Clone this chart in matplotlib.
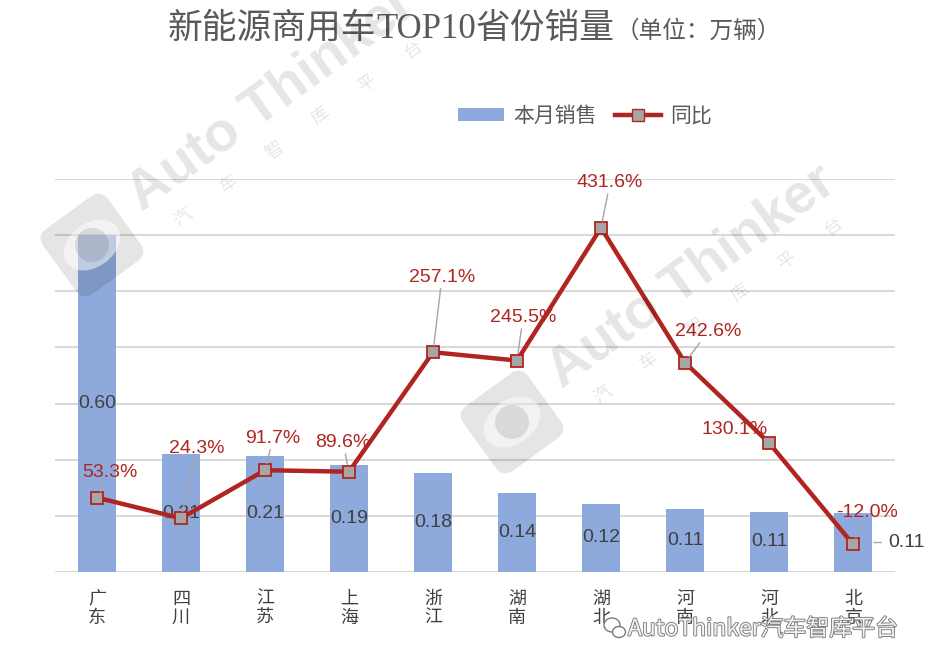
import math
import matplotlib
matplotlib.use('Agg')
import matplotlib.pyplot as plt
import matplotlib.transforms as mtransforms
import matplotlib.patheffects as pe
from matplotlib.patches import FancyBboxPatch, Ellipse, Circle
from matplotlib.lines import Line2D
from matplotlib.patches import Patch

plt.rcParams['font.family'] = ['Noto Sans CJK SC', 'DejaVu Sans']

# data
provinces = ['广东', '四川', '江苏', '上海', '浙江', '湖南', '湖北', '河南', '河北', '北京']
sales = [0.60, 0.21, 0.207, 0.19, 0.177, 0.14, 0.122, 0.112, 0.107, 0.1051]
yoy = [53.3, 24.3, 91.7, 89.6, 257.1, 245.5, 431.6, 242.6, 130.1, -12.0]
# label offsets (pixels) of the yoy labels from their points
yoy_dx = [13, 16, 8, -6, 9, 6, 9, 23, -34, 14]
yoy_dy = [25, 70, 32, 29, 75, 43, 45, 31, 13, 32]

BAR_COLOR = '#8EA9DB'
LINE_COLOR = '#B0251F'
GRID_COLOR = '#D9D9D9'
TEXT_GRAY = '#595959'
W, H = 931, 669

fig = plt.figure(figsize=(W / 100, H / 100), dpi=100)
ax = fig.add_axes([55 / W, 1 - 572 / H, 840 / W, 393 / H])
ax2 = ax.twinx()

x = list(range(len(provinces)))
bars = ax.bar(x, sales, width=0.46, color=BAR_COLOR, zorder=2)
ax.set_xlim(-0.5, len(provinces) - 0.5)
ax.set_ylim(0, 0.7)
ax.set_yticks([i / 10 for i in range(8)])
ax.yaxis.grid(True, color=GRID_COLOR, linewidth=1.5, zorder=0)
ax.set_axisbelow(True)
ax.tick_params(axis='y', left=False, labelleft=False)
ax.set_xticks(x)
ax.set_xticklabels(['\n'.join(p) for p in provinces], fontsize=13, color='#404040', linespacing=1.05)
ax.tick_params(axis='x', length=0, pad=13)
for s in ax.spines.values():
    s.set_visible(False)

# bar value labels
for i, v in enumerate(sales):
    if i < len(sales) - 1:
        ax.text(i, v / 2, f'{v:.2f}', ha='center', va='center', fontsize=14,
                color='#404040', family='Liberation Sans', zorder=4)
    else:
        ax.annotate(f'{v:.2f}', xy=(i + 0.23, v / 2), xytext=(16, 0), textcoords='offset pixels',
                    ha='left', va='center', fontsize=14, color='#404040', family='Liberation Sans',
                    arrowprops=dict(arrowstyle='-', color='#A6A6A6', lw=1, shrinkA=3, shrinkB=1))

# yoy line
ax2.plot(x, yoy, color=LINE_COLOR, linewidth=3.2, marker='s', markersize=9,
         markerfacecolor='#A6A6A6', markeredgecolor=LINE_COLOR, markeredgewidth=1.3, zorder=5)
ax2.set_ylim(-51, 500)
ax2.set_yticks([])
for s in ax2.spines.values():
    s.set_visible(False)

for i, v in enumerate(yoy):
    ax2.annotate(f'{v:.1f}%', xy=(i, v), xytext=(yoy_dx[i], yoy_dy[i]), textcoords='offset pixels',
                 ha='center', va='center', fontsize=14, color=LINE_COLOR, family='Liberation Sans',
                 arrowprops=dict(arrowstyle='-', color='#A6A6A6', lw=1, shrinkA=0, shrinkB=5), zorder=6)

# legend
handles = [Patch(facecolor=BAR_COLOR, edgecolor='none'),
           Line2D([0], [0], color=LINE_COLOR, linewidth=3.2, marker='s', markersize=9,
                  markerfacecolor='#A6A6A6', markeredgecolor=LINE_COLOR)]
leg = fig.legend(handles, ['本月销售', '同比'], loc='center', bbox_to_anchor=(585 / W, 1 - 116 / H),
                 ncol=2, frameon=False, fontsize=15, handlelength=2.2, handleheight=0.55,
                 handletextpad=0.45, columnspacing=0.9)
for t in leg.get_texts():
    t.set_color(TEXT_GRAY)

# title, drawn in pieces so TOP10 gets a serif face
renderer = fig.canvas.get_renderer()
pieces = [('新能源商用车', ['Noto Sans CJK SC'], 25),
          ('TOP10', ['Liberation Serif'], 25),
          ('省份销量', ['Noto Sans CJK SC'], 25),
          ('（单位：万辆）', ['Noto Sans CJK SC'], 17)]
xpos = 168
for txt, fam, size in pieces:
    t = fig.text(xpos / W, 1 - 38 / H, txt, fontsize=size, family=fam, color=TEXT_GRAY,
                 ha='left', va='baseline')
    xpos += t.get_window_extent(renderer).width

# watermarks
def px(xp, yp):
    return xp / W, 1 - yp / H

ANG = 36

def watermark(cx, cy):
    fig.text(*px(cx, cy), 'Auto Thinker', fontsize=40, fontweight='bold', family='Liberation Sans',
             color='black', alpha=0.1, rotation=ANG, rotation_mode='anchor', ha='center', va='center')
    ux, uy = math.cos(math.radians(ANG)), -math.sin(math.radians(ANG))
    sx, sy = cx + 26, cy + 34
    for k, ch in enumerate('汽车智库平台'):
        d = (k - 2.5) * 57
        fig.text(*px(sx + d * ux, sy + d * uy), ch, fontsize=13, color='black', alpha=0.1,
                 rotation=ANG, ha='center', va='center')
    lx, ly = cx - 180, H - (cy + 145)
    tr = mtransforms.Affine2D().rotate_deg_around(lx, ly, ANG).scale(1 / W, 1 / H) + fig.transFigure
    box = FancyBboxPatch((lx - 40, ly - 40), 80, 80, boxstyle='round,pad=0,rounding_size=13',
                         facecolor='black', edgecolor='none', alpha=0.1, transform=tr)
    fig.patches.append(box)
    eye = Ellipse((lx, ly), 62, 44, facecolor='white', edgecolor='none', alpha=0.5, transform=tr)
    fig.patches.append(eye)
    pupil = Circle((lx, ly), 17, facecolor='black', edgecolor='none', alpha=0.1, transform=tr)
    fig.patches.append(pupil)

watermark(272, 100)
watermark(692, 277)

# wechat footer
fig.text(*px(628, 629), 'AutoThinker汽车智库平台', fontsize=16.5, color='#F4F4F4', ha='left', va='center',
         path_effects=[pe.withStroke(linewidth=1.3, foreground='#7A7A7A')])
tr = mtransforms.Affine2D().scale(1 / W, 1 / H) + fig.transFigure
for (ex, ey, ew, eh) in [(612, H - 625, 16, 14), (619, H - 632, 13, 11)]:
    fig.patches.append(Ellipse((ex, ey), ew, eh, facecolor='white', edgecolor='#7A7A7A', lw=1, transform=tr))

fig.savefig('out.png', dpi=100)
